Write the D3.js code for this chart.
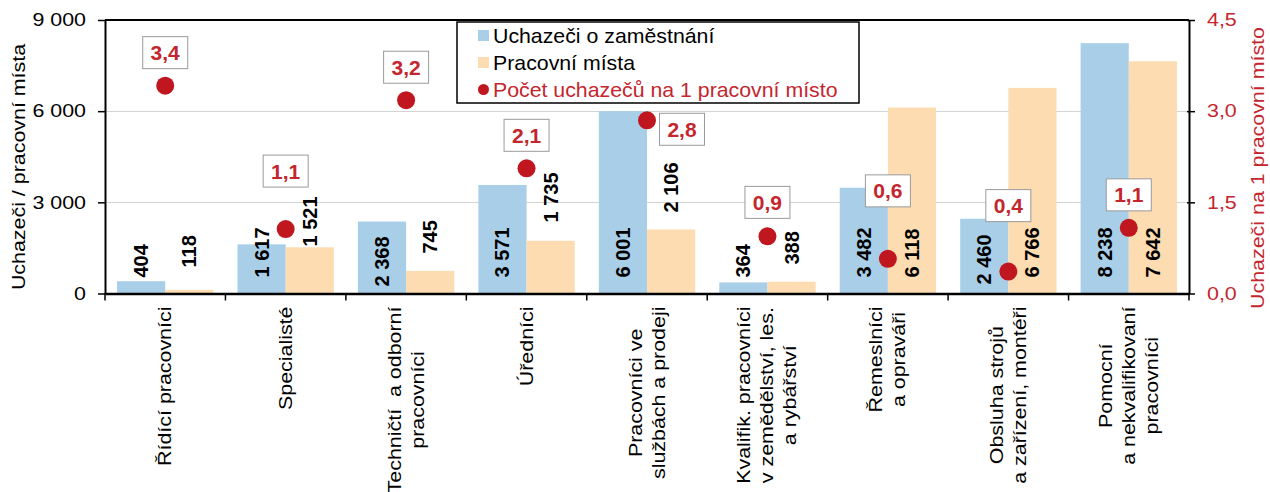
<!DOCTYPE html>
<meta charset="utf-8">
<style>
body { margin: 0; background: #fff; }
text { font-family: "Liberation Sans", Arial, sans-serif; white-space: pre; }
.grid { stroke: #d4d4d4; stroke-width: 1; }
</style>
<body>
<script src="https://cdn.jsdelivr.net/npm/d3@7"></script>
<script>

// data
var categories = [
    ["Řídící pracovníci"],
    ["Specialisté"],
    ["Techničtí  a odborní", "pracovníci"],
    ["Úředníci"],
    ["Pracovníci ve", "službách a prodeji"],
    ["Kvalifik. pracovníci", "v zemědělství, les.", "a rybářství"],
    ["Řemeslníci", "a opraváři"],
    ["Obsluha strojů", "a zařízení, montéři"],
    ["Pomocní", "a nekvalifikovaní", "pracovníci"]
];
var applicants = [404, 1617, 2368, 3571, 6001, 364, 3482, 2460, 8238];
var vacancies  = [118, 1521, 745, 1735, 2106, 388, 6118, 6766, 7642];
var ratio      = [3.42, 1.06, 3.18, 2.06, 2.85, 0.94, 0.57, 0.36, 1.08];
var ratioText  = ["3,4", "1,1", "3,2", "2,1", "2,8", "0,9", "0,6", "0,4", "1,1"];
var leftTicks  = [0, 3000, 6000, 9000];
var rightTicks = [0, 1.5, 3, 4.5];
var seriesNames = ["Uchazeči o zaměstnání", "Pracovní místa", "Počet uchazečů na 1 pracovní místo"];

// label placement (px)
var applicantPad = [16, 16, 7, 16, 16, 16, 16, 9, 16];
var vacancyPad   = [26, 47, 40, 71, 81, 29, 16, 16, 16];
var boxOffset = [[0,-33],[0,-58],[0,-33],[0,-33],[35,9],[0,-34],[0,-68],[0,-66],[0,-33]];

var blue = "#a9cfe8", orange = "#fcdcb0", red = "#c0161f", redText = "#c4262e";
var stretch = 1.19;

var margin = {top: 20, right: 81, bottom: 198.5, left: 105},
    width = 1270 - margin.left - margin.right,
    height = 492 - margin.top - margin.bottom;

var xc = d3.scaleBand().domain(d3.range(categories.length)).range([0, width]);
var step = xc.step();
var x1 = d3.scaleBand().domain(["a", "v"]).range([step * 0.1, step * 0.9]);
var y = d3.scaleLinear().domain([0, 9000]).range([height, 0]);
var yR = d3.scaleLinear().domain([0, 4.5]).range([height, 0]);

var fmtL = function(d) { return d3.format(",")(d).replace(/,/g, " "); };
var fmtR = function(d) { return d3.format(".1f")(d).replace(".", ","); };

var svg = d3.select("body").append("svg")
    .attr("width", 1270).attr("height", 492);
var g = svg.append("g")
    .attr("transform", "translate(" + margin.left + "," + margin.top + ")");

// gridlines
g.selectAll(".grid").data(leftTicks.slice(1, 3)).enter().append("line")
    .attr("class", "grid")
    .attr("x1", 0).attr("x2", width)
    .attr("y1", function(d) { return Math.round(y(d)) + 0.5; })
    .attr("y2", function(d) { return Math.round(y(d)) + 0.5; });

// bars
g.selectAll(".barA").data(applicants).enter().append("rect")
    .attr("x", function(d, i) { return xc(i) + x1("a"); })
    .attr("y", function(d) { return y(d); })
    .attr("width", x1.bandwidth())
    .attr("height", function(d) { return height - y(d); })
    .attr("fill", blue);
g.selectAll(".barV").data(vacancies).enter().append("rect")
    .attr("x", function(d, i) { return xc(i) + x1("v"); })
    .attr("y", function(d) { return y(d); })
    .attr("width", x1.bandwidth())
    .attr("height", function(d) { return height - y(d); })
    .attr("fill", orange);

// top border
g.append("line").attr("x1", 0).attr("x2", width)
    .attr("y1", y(9000)).attr("y2", y(9000))
    .attr("stroke", "#000").attr("stroke-width", 2);

// left axis
var axL = g.append("g").call(d3.axisLeft(y).tickValues(leftTicks).tickSize(7).tickSizeOuter(0).tickFormat(fmtL));
axL.select(".domain").attr("stroke-width", 2);
axL.selectAll(".tick line").attr("stroke-width", 1.5);
axL.selectAll(".tick text")
    .attr("x", -19 / stretch).attr("transform", "scale(" + stretch + ",1)")
    .attr("font-size", 18).attr("fill", "#000");

// right axis
var axR = g.append("g").attr("transform", "translate(" + width + ",0)")
    .call(d3.axisRight(yR).tickValues(rightTicks).tickSize(6).tickSizeOuter(0).tickFormat(fmtR));
axR.select(".domain").attr("stroke-width", 2);
axR.selectAll(".tick line").attr("x1", -2).attr("stroke-width", 1.5);
axR.selectAll(".tick text")
    .attr("x", 18 / stretch).attr("transform", "scale(" + stretch + ",1)")
    .attr("font-size", 18).attr("fill", redText);

// bottom axis
var axB = g.append("g").attr("transform", "translate(0," + height + ")")
    .call(d3.axisBottom(xc).tickSize(0).tickSizeOuter(0).tickFormat(""));
axB.select(".domain").attr("stroke-width", 2.5);
axB.selectAll(".bound").data(d3.range(categories.length + 1)).enter().append("line")
    .attr("x1", function(d) { return d * step; })
    .attr("x2", function(d) { return d * step; })
    .attr("y1", 0).attr("y2", 7)
    .attr("stroke", "#000").attr("stroke-width", 1.5);

// category labels
var lineH = 23;
categories.forEach(function(lines, i) {
    var cx = xc(i) + step / 2;
    var grp = g.append("g");
    var texts = lines.map(function(t) {
        return grp.append("text").text(t).attr("font-size", 18)
            .attr("text-anchor", "middle").attr("fill", "#000");
    });
    var maxLen = d3.max(texts, function(t) { return t.node().getComputedTextLength(); }) * stretch;
    var cy = height + 13 + maxLen / 2;
    texts.forEach(function(t, j) {
        var lx = cx + (j - (lines.length - 1) / 2) * lineH + 6;
        t.attr("transform", "translate(" + lx + "," + cy + ") rotate(-90) scale(" + stretch + ",1)");
    });
});

// bar value labels
function valueLabels(data, key, pads) {
    g.selectAll(".lbl" + key).data(data).enter().append("text")
        .attr("transform", function(d, i) {
            var bx = xc(i) + x1(key) + x1.bandwidth() / 2 + 7;
            return "translate(" + bx + "," + (height - pads[i]) + ") rotate(-90)";
        })
        .attr("font-size", 20).attr("font-weight", "bold").attr("fill", "#000")
        .text(function(d) { return fmtL(d); });
}
valueLabels(applicants, "a", applicantPad);
valueLabels(vacancies, "v", vacancyPad);

// ratio points
g.selectAll(".dot").data(ratio).enter().append("circle")
    .attr("cx", function(d, i) { return xc(i) + step / 2; })
    .attr("cy", function(d) { return yR(d); })
    .attr("r", 9).attr("fill", red);

// ratio label boxes
ratio.forEach(function(d, i) {
    var bx = xc(i) + step / 2 + boxOffset[i][0];
    var by = yR(d) + boxOffset[i][1];
    g.append("rect").attr("x", bx - 22.5).attr("y", by - 16)
        .attr("width", 45).attr("height", 32)
        .attr("fill", "#fff").attr("stroke", "#9a9a9a").attr("stroke-width", 1);
    g.append("text").attr("x", bx).attr("y", by + 7.5)
        .attr("text-anchor", "middle").attr("font-size", 21).attr("font-weight", "bold")
        .attr("fill", redText).text(ratioText[i]);
});

// axis titles
svg.append("text").text("Uchazeči / pracovní místa")
    .attr("transform", "translate(25,167) rotate(-90) scale(" + stretch + ",1)")
    .attr("text-anchor", "middle").attr("font-size", 18).attr("fill", "#000");
svg.append("text").text("Uchazeči na 1 pracovní místo")
    .attr("transform", "translate(1264,168) rotate(-90) scale(" + stretch + ",1)")
    .attr("text-anchor", "middle").attr("font-size", 18).attr("fill", redText);

// legend
var leg = svg.append("g").attr("transform", "translate(457,22)");
leg.append("rect").attr("x", 0).attr("y", 0).attr("width", 402).attr("height", 81)
    .attr("fill", "#fff").attr("stroke", "#000").attr("stroke-width", 1.5);
var legColors = [blue, orange, red];
seriesNames.forEach(function(name, i) {
    var ly = 21 + i * 27;
    if (i < 2) {
        leg.append("rect").attr("x", 21).attr("y", ly - 13).attr("width", 11).attr("height", 11)
            .attr("fill", legColors[i]);
    } else {
        leg.append("circle").attr("cx", 26.5).attr("cy", ly - 7.5).attr("r", 5.5).attr("fill", red);
    }
    leg.append("text").text(name)
        .attr("transform", "translate(36," + ly + ") scale(1.065,1)")
        .attr("font-size", 20).attr("fill", i < 2 ? "#000" : redText);
});

</script>
</body>
